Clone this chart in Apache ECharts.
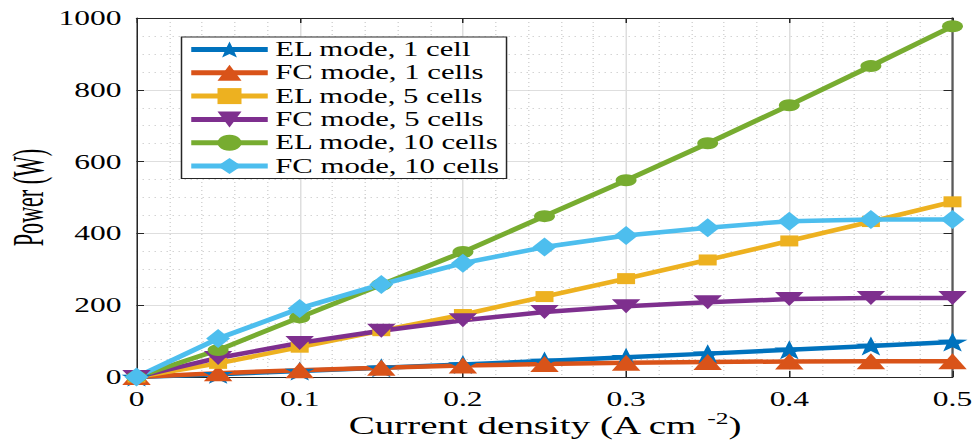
<!DOCTYPE html>
<html>
<head>
<meta charset="utf-8">
<title>Power vs current density</title>
<script src="https://cdn.jsdelivr.net/npm/echarts@6/dist/echarts.min.js"></script>
<style>
  html, body { margin: 0; padding: 0; background: #ffffff; }
  #frame { width: 978px; height: 441px; overflow: hidden; position: relative; }
  /* the figure is laid out narrow and widened horizontally, like the original export */
  #chart { width: 652px; height: 441px; transform: scaleX(1.5); transform-origin: 0 0; }
</style>
</head>
<body>
<div id="frame"><div id="chart"></div></div>
<script>
// Current density (A cm^-2)
const currentDensity = [0, 0.05, 0.1, 0.15, 0.2, 0.25, 0.3, 0.35, 0.4, 0.45, 0.5];

// Power (W) per configuration
const elOneCell   = [0, 7.5, 16.6, 25.7, 34.8, 44.8, 54.8, 65.1, 75.7, 86.6, 97.7];
const fcOneCell   = [0, 10.7, 19.1, 25.8, 31.7, 36.2, 39.4, 41.6, 43.4, 43.9, 43.9];
const elFiveCell  = [0, 38, 83, 129, 174, 224, 274, 326, 379, 433, 488];
const fcFiveCell  = [0, 53, 95, 129, 158, 181, 197, 208, 217, 220, 220];
const elTenCell   = [0, 75, 166, 257, 348, 448, 548, 651, 757, 866, 977];
const fcTenCell   = [0, 107, 191, 258, 317, 362, 394, 416, 434, 439, 439];

const seriesNames = [
  'EL mode, 1 cell', 'FC mode, 1 cells', 'EL mode, 5 cells',
  'FC mode, 5 cells', 'EL mode, 10 cells', 'FC mode, 10 cells'
];

const yTicks = [0, 200, 400, 600, 800, 1000];
const xTicks = [0, 0.1, 0.2, 0.3, 0.4, 0.5];
const yTitle = 'Power (W)';

const STAR = 'path://M0,-10 L2.35,-3.24 L9.51,-3.09 L3.8,1.24 L5.88,8.09 L0,4 L-5.88,8.09 L-3.8,1.24 L-9.51,-3.09 L-2.35,-3.24 Z';
const DOWN_TRIANGLE = 'path://M0,0 L10,0 L5,8.66 Z';

const styles = [
  { color: '#0072BD', symbol: STAR, size: [20, 19] },
  { color: '#D95319', symbol: 'triangle', size: [19, 16] },
  { color: '#EDB120', symbol: 'rect', size: [12, 11] },
  { color: '#7E2F8E', symbol: DOWN_TRIANGLE, size: [19, 14] },
  { color: '#77AC30', symbol: 'circle', size: [14, 12] },
  { color: '#4DBEEE', symbol: 'diamond', size: [16, 19] }
];

const allValues = [elOneCell, fcOneCell, elFiveCell, fcFiveCell, elTenCell, fcTenCell];

const serif = '"Liberation Serif", "DejaVu Serif", serif';
const axisColor = '#262626';

const series = allValues.map((vals, i) => ({
  name: seriesNames[i],
  type: 'line',
  data: currentDensity.map((x, k) => [x, vals[k]]),
  symbol: styles[i].symbol,
  symbolSize: styles[i].size,
  showAllSymbol: true,
  clip: false,
  lineStyle: { color: styles[i].color, width: 4.5 },
  itemStyle: { color: styles[i].color, borderWidth: 0 },
  emphasis: { disabled: true },
  animation: false
}));

const chart = echarts.init(document.getElementById('chart'), null, { renderer: 'svg' });

chart.setOption({
  backgroundColor: '#ffffff',
  animation: false,
  textStyle: { fontFamily: serif },
  grid: { left: 91, right: 17, top: 18, bottom: 64, containLabel: false, outerBoundsMode: 'none' },
  // condensed, rotated y-axis title
  graphic: [{
    type: 'text',
    x: 18.5,
    y: 197.5,
    rotation: Math.PI / 2,
    scaleX: 0.76,
    silent: true,
    style: {
      text: yTitle,
      font: '29px ' + serif,
      fill: '#000000',
      align: 'center',
      verticalAlign: 'middle'
    }
  }],
  legend: {
    orient: 'vertical',
    left: 121,
    top: 37,
    itemWidth: 51,
    itemHeight: 20,
    itemGap: 2.3,
    padding: [2, 5, 2, 4],
    backgroundColor: '#ffffff',
    borderColor: '#262626',
    borderWidth: 1,
    borderRadius: 0,
    selectedMode: false,
    lineStyle: { width: 5 },
    textStyle: { fontFamily: serif, fontSize: 20.5, color: '#000000', lineHeight: 20 },
    data: seriesNames
  },
  xAxis: [
    {
      type: 'value',
      min: xTicks[0], max: xTicks[xTicks.length - 1], interval: 0.1,
      name: '{t|Current density (A cm }{s|-2}{t|)}',
      nameLocation: 'middle',
      nameGap: 33,
      nameMoveOverlap: false,
      nameTextStyle: {
        rich: {
          t: { fontFamily: serif, fontSize: 26, color: '#000000' },
          s: { fontFamily: serif, fontSize: 17, color: '#000000', verticalAlign: 'top', padding: [0, 0, 12, 0] }
        }
      },
      axisLine: { show: true, onZero: false, lineStyle: { color: axisColor, width: 1 } },
      axisTick: { show: true, inside: true, length: 6, lineStyle: { color: axisColor } },
      axisLabel: { fontFamily: serif, fontSize: 21, color: '#000000', margin: 11,
                   formatter: v => (v === 0 ? '0' : String(+v.toFixed(2))) },
      splitLine: { show: true, lineStyle: { color: '#dedede', width: 1 } },
      minorTick: { show: false, splitNumber: 5 },
      minorSplitLine: { show: true, lineStyle: { color: '#d4d4d4', width: 1, type: [1, 3] } }
    },
    {
      type: 'value', position: 'top',
      min: xTicks[0], max: xTicks[xTicks.length - 1], interval: 0.1,
      axisLine: { show: true, onZero: false, lineStyle: { color: axisColor, width: 1 } },
      axisTick: { show: true, inside: true, length: 5, lineStyle: { color: axisColor } },
      axisLabel: { show: false },
      splitLine: { show: false }
    }
  ],
  yAxis: [
    {
      type: 'value',
      min: yTicks[0], max: yTicks[yTicks.length - 1], interval: 200,
      axisLine: { show: true, onZero: false, lineStyle: { color: axisColor, width: 1 } },
      axisTick: { show: true, inside: true, length: 5, lineStyle: { color: axisColor } },
      axisLabel: { fontFamily: serif, fontSize: 21, color: '#000000', margin: 10,
                   formatter: v => String(v) },
      splitLine: { show: true, lineStyle: { color: '#dedede', width: 1 } },
      minorTick: { show: false, splitNumber: 4 },
      minorSplitLine: { show: true, lineStyle: { color: '#d4d4d4', width: 1, type: [1, 3] } }
    },
    {
      type: 'value', position: 'right',
      min: yTicks[0], max: yTicks[yTicks.length - 1], interval: 200,
      axisLine: { show: true, onZero: false, lineStyle: { color: '#5a5a5a', width: 1.5 } },
      axisTick: { show: true, inside: true, length: 6, lineStyle: { color: axisColor } },
      axisLabel: { show: false },
      splitLine: { show: false }
    }
  ],
  series: series
});
</script>
</body>
</html>
